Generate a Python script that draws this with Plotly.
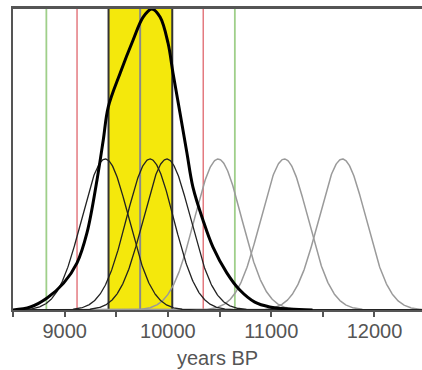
import numpy as np
import plotly.graph_objects as go

# ---- data ----
black_centers = [9393, 9827, 9990]          # calibrated dates (years BP), dark curves
grey_centers = [10486, 11128, 11689]        # calibrated dates (years BP), grey curves
sigma = 228                                 # spread of each date (years)
peak_height = 0.5                           # relative height of single-date curves

# combined (bold) distribution, read point by point
sum_years = [8500, 8669, 8830, 8990, 9120, 9216, 9313, 9374, 9422, 9538, 9663, 9760,
             9844, 9924, 10001, 10049, 10117, 10184, 10242, 10339, 10435, 10570,
             10696, 10841, 10986, 11179, 11400]
sum_heights = [0.0, 0.010, 0.040, 0.089, 0.156, 0.255, 0.430, 0.563, 0.672, 0.785,
               0.894, 0.970, 0.997, 0.970, 0.884, 0.785, 0.652, 0.520, 0.407, 0.298,
               0.209, 0.123, 0.066, 0.026, 0.010, 0.003, 0.0]

band_68 = [9425, 10042]                     # yellow interval
band_mid = 9731                             # grey line inside the interval
red_lines = [9120, 10342]
green_lines = [8823, 10648]
tick_vals = [8500, 9000, 9500, 10000, 10500, 11000, 11500, 12000]
tick_text = ["", "9000", "", "10000", "", "11000", "", "12000"]
x_title = "years BP"
x_range = [8500, 12460]

x = np.linspace(x_range[0], x_range[1], 800)


def bump(c):
    return peak_height * np.exp(-((x - c) ** 2) / (2 * sigma ** 2))


fig = go.Figure()

# yellow interval
fig.add_shape(type="rect", xref="x", yref="y", x0=band_68[0], x1=band_68[1], y0=0, y1=1,
              fillcolor="#f4e80c", line=dict(color="#333333", width=2), layer="below")
fig.add_shape(type="line", xref="x", yref="y", x0=band_mid, x1=band_mid, y0=0, y1=1,
              line=dict(color="#8a8a8a", width=2), layer="below")
for v in red_lines:
    fig.add_shape(type="line", xref="x", yref="y", x0=v, x1=v, y0=0, y1=1,
                  line=dict(color="#e47a80", width=1.5), layer="below")
for v in green_lines:
    fig.add_shape(type="line", xref="x", yref="y", x0=v, x1=v, y0=0, y1=1,
                  line=dict(color="#9fcf8a", width=1.8), layer="below")

for c in grey_centers:
    fig.add_trace(go.Scatter(x=x, y=bump(c), mode="lines",
                             line=dict(color="#9a9a9a", width=1.5), hoverinfo="skip"))
for c in black_centers:
    fig.add_trace(go.Scatter(x=x, y=bump(c), mode="lines",
                             line=dict(color="#222222", width=1.3), hoverinfo="skip"))

fig.add_trace(go.Scatter(x=sum_years, y=sum_heights, mode="lines",
                         line=dict(color="#000000", width=3, shape="spline", smoothing=1.0),
                         cliponaxis=False, hoverinfo="skip"))

# top frame line
fig.add_trace(go.Scatter(x=x_range, y=[1, 1], mode="lines",
                         line=dict(color="#555555", width=2),
                         cliponaxis=False, hoverinfo="skip"))

fig.add_annotation(text=x_title, xref="paper", yref="paper", x=0.5, y=0,
                   yshift=-48, showarrow=False, yanchor="middle",
                   font=dict(size=20, color="#555555"))

fig.update_layout(
    width=422, height=370,
    margin=dict(l=13, r=0, t=8, b=60, autoexpand=False),
    paper_bgcolor="white", plot_bgcolor="white",
    showlegend=False,
    font=dict(family="Liberation Sans, Arial, sans-serif", color="#555555", size=20),
    xaxis=dict(range=x_range, tickvals=tick_vals, ticktext=tick_text,
               ticks="outside", ticklen=5, tickwidth=1.5, tickcolor="#555555",
               showline=True, linecolor="#555555", linewidth=2, mirror=True,
               showgrid=False, zeroline=False, automargin=False,
               ticklabelstandoff=-3,
               tickfont=dict(size=20, color="#555555")),
    yaxis=dict(range=[0, 1], showticklabels=False, ticks="", showgrid=False,
               zeroline=False, showline=True, linecolor="#555555", linewidth=2,
               automargin=False),
)

fig.write_html("out.html", config={"displayModeBar": False},
               post_script="document.body.style.margin='0';document.body.style.overflow='hidden';")
